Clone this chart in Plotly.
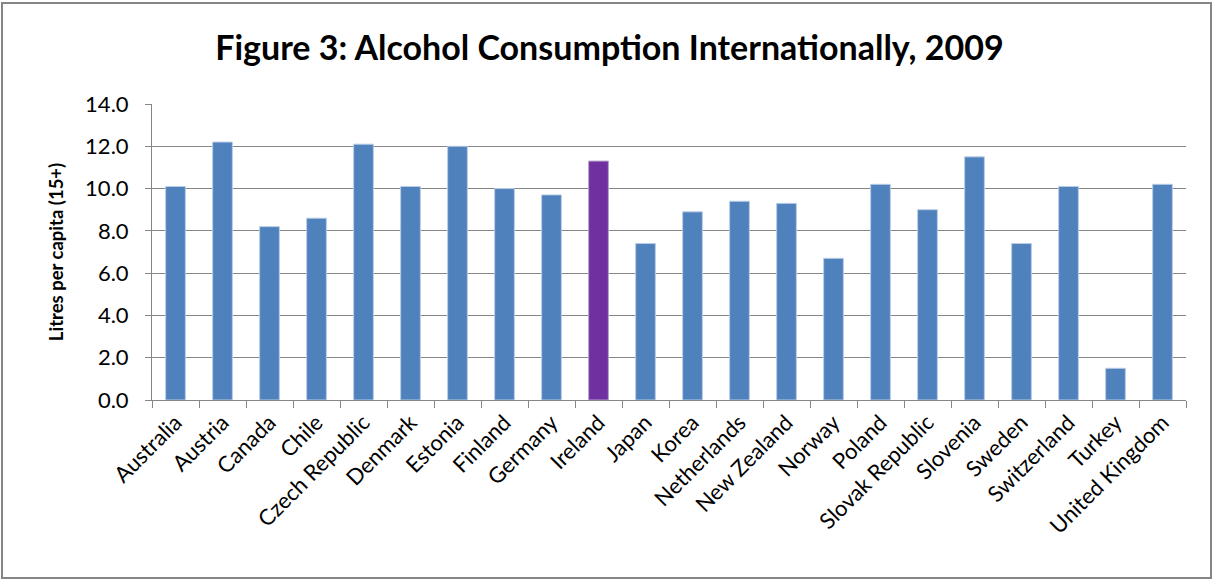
import plotly.graph_objects as go

countries = ["Australia", "Austria", "Canada", "Chile", "Czech Republic", "Denmark",
             "Estonia", "Finland", "Germany", "Ireland", "Japan", "Korea", "Netherlands",
             "New Zealand", "Norway", "Poland", "Slovak Republic", "Slovenia", "Sweden",
             "Switzerland", "Turkey", "United Kingdom"]
litres = [10.1, 12.2, 8.2, 8.6, 12.1, 10.1, 12.0, 10.0, 9.7, 11.3, 7.4, 8.9, 9.4,
          9.3, 6.7, 10.2, 9.0, 11.5, 7.4, 10.1, 1.5, 10.2]
highlight = "Ireland"

colors = ["#7030A0" if c == highlight else "#4F81BD" for c in countries]
line_colors = ["#B7A0D0" if c == highlight else "#B9CDE5" for c in countries]

FONT = "Lato"

fig = go.Figure(go.Bar(
    x=countries, y=litres,
    marker=dict(color=colors, line=dict(color=line_colors, width=1)),
    width=0.42,
))

fig.update_layout(
    width=1214, height=581,
    margin=dict(l=152, r=28, t=104, b=181),
    paper_bgcolor="white", plot_bgcolor="white",
    showlegend=False,
    font=dict(family=FONT, color="black"),
    title=dict(text="<b>Figure 3: Alcohol Consumption Internationally, 2009</b>",
               x=0.502, xanchor="center", y=0.918, yanchor="middle",
               font=dict(family=FONT, size=34, color="black")),
    xaxis=dict(
        tickangle=-45, tickfont=dict(size=22, family=FONT),
        showline=True, linecolor="#868686", linewidth=1,
        ticks="outside", ticklen=7, tickcolor="#868686", tickson="boundaries",
        showgrid=False, range=[-0.5, len(countries) - 0.5], automargin=False,
    ),
    yaxis=dict(
        range=[0, 14], dtick=2, tickformat=".1f",
        tickfont=dict(size=22, family=FONT), ticklabelstandoff=12,
        showline=True, linecolor="#868686", linewidth=1,
        ticks="outside", ticklen=6, tickcolor="#868686",
        showgrid=True, gridcolor="#868686", gridwidth=1,
        zeroline=False, automargin=False,
        title=dict(text="<b>Litres per capita (15+)</b>", font=dict(size=18.5, family=FONT), standoff=16),
    ),
    shapes=[dict(type="rect", xref="paper", yref="paper",
                 x0=(2 - 152) / 1034, x1=(1211 - 152) / 1034,
                 y0=(400 - 578) / 296, y1=(400 - 3) / 296,
                 line=dict(color="#868686", width=2), fillcolor="rgba(0,0,0,0)", layer="below")],
)

fig.write_html("out.html")
